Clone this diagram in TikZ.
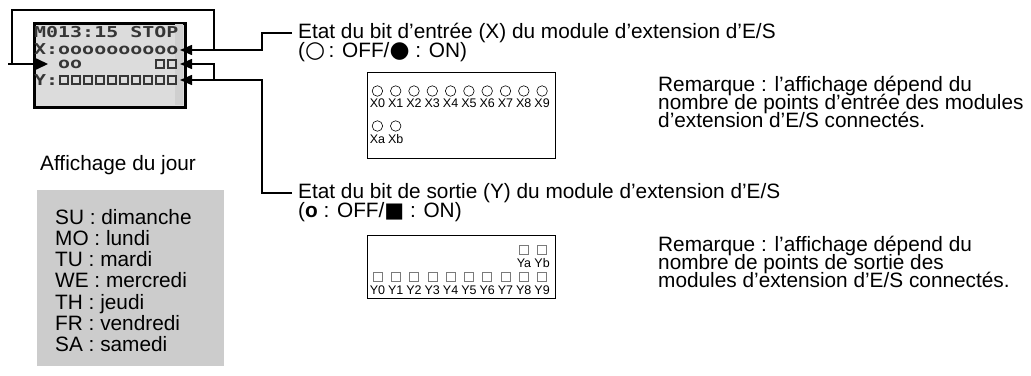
\documentclass[tikz,border=0pt]{standalone}
\usepackage{fontspec}
\setmainfont{Liberation Sans}
\newfontfamily\lcdfont{DejaVu Sans Mono}
\newfontfamily\symfont{DejaVu Sans}
\usetikzlibrary{arrows.meta}
\definecolor{lcdgray}{HTML}{DCDCDC}
\definecolor{lcddark}{HTML}{CFCFCF}
\definecolor{lcdink}{HTML}{363636}
\definecolor{boxgray}{HTML}{CCCCCC}
\definecolor{sqgray}{HTML}{7A7A7A}
\newcommand{\symc}[2]{{\symfont\fontsize{#1}{#1}\selectfont #2}}
\begin{document}
\begin{tikzpicture}[x=1pt,y=-1pt,
  conn/.style={line width=1.5pt},
  arr/.style={conn,-{Triangle[length=12pt,width=10pt]}},
  bigarr/.style={conn,-{Triangle[length=14pt,width=13pt]}},
  txt/.style={font=\fontsize{20.8}{18}\selectfont, anchor=base west, inner sep=0pt},
  ttl/.style={font=\fontsize{20.8}{18}\selectfont, anchor=base west, inner xsep=6pt, inner ysep=0pt},
  lcdtxt/.style={font=\lcdfont\bfseries\fontsize{15}{15}\selectfont, text=lcdink, anchor=base west, inner sep=0pt},
  lcdsq/.style={draw=lcdink, line width=1.6pt, minimum width=8pt, minimum height=8pt, inner sep=0pt},
  circ/.style={draw, circle, line width=0.6pt, minimum size=10.5pt, inner sep=0pt},
  sq/.style={draw=sqgray, line width=0.6pt, minimum width=9pt, minimum height=9pt, inner sep=0pt},
  small/.style={font=\fontsize{12.5}{12}\selectfont, inner sep=0pt},
  frame/.style={draw, line width=0.8pt, anchor=north west, inner sep=0pt}]
\useasboundingbox (0,0) rectangle (1031,375);

% LCD
\node[draw, line width=3pt, fill=lcdgray, minimum width=151pt, minimum height=84pt, inner sep=0pt, anchor=north west] (lcd) at (33,22) {};
\fill[lcddark] (175,23.5) rectangle (182.5,104.5);
\node[lcdtxt] (l1) at (34,37) {\scalebox{1.33}[1]{M013:15 STOP}};
\node[lcdtxt] (l2) at (34,54) {\scalebox{1.33}[1]{X:oooooooooo}};
\node[lcdtxt] (l3) at (34,68) {\scalebox{1.33}[1]{\ \ oo}};
\node[lcdtxt] (l4) at (34,85) {\scalebox{1.33}[1]{Y:}};
\foreach \c in {10,11}{\node[lcdsq] (r3s\c) at ({34+12*(\c+0.5)},64) {};}
\foreach \c in {2,...,11}{\node[lcdsq] (ys\c) at ({34+12*(\c+0.5)},80) {};}

% connector points
\coordinate (xtip) at (180,50);
\coordinate (r3tip) at (180,64);
\coordinate (ytip) at (180,80);
\coordinate (ltip) at (48,64);
\coordinate (jin) at (262,50);
\coordinate (jtop) at (214,50);
\coordinate (tl) at (12,10);
\coordinate (lstart) at (8,64);
\coordinate (lc) at (12,64);
\coordinate (jout) at (262,80);
\coordinate (jy) at (214,80);

% titles
\node[ttl] (intitle) at (292,38.5) {Etat du bit d’entrée (X) du module d’extension d’E/S};
\node[txt] (inleg) at (298,57) {(\symc{23}{○}\,: OFF/\symc{23}{●} : ON)};
\node[ttl] (outtitle) at (292,198.5) {Etat du bit de sortie (Y) du module d’extension d’E/S};
\node[txt] (outleg) at (298,217) {(\textbf{o} : OFF/\symc{21}{■} : ON)};

% connectors
\draw[arr] (intitle.west) -| (jin) -- (xtip);
\draw[conn] (jtop) |- (tl) -- (lc);
\draw[bigarr] (lstart) -- (ltip);
\draw[arr] (outtitle.west) -| (jout) -- (ytip);
\draw[arr] (jy) |- (r3tip);

% X box
\node[frame, minimum width=188pt, minimum height=86pt] (xbox) at (367,72) {};
\foreach \i in {0,...,9}{
  \node[circ] (xc\i) at ({377.4+18.3*\i},91) {};
  \node[small] (xl\i) at ({377.4+18.3*\i},103) {X\i};
}
\node[circ] (xca) at (377.4,126) {};
\node[small] (xla) at (377.4,139) {Xa};
\node[circ] (xcb) at (395.7,126) {};
\node[small] (xlb) at (395.7,139) {Xb};

% Y box
\node[frame, minimum width=188pt, minimum height=63pt] (ybox) at (367,235) {};
\foreach \i in {0,...,9}{
  \node[sq] (ys\i b) at ({377.4+18.3*\i},277) {};
  \node[small] (yl\i) at ({377.4+18.3*\i},290) {Y\i};
}
\node[sq] (ysa) at (524,250) {};
\node[small] (yla) at (524,263) {Ya};
\node[sq] (ysb) at (542.1,250) {};
\node[small] (ylb) at (542.1,263) {Yb};

% remarks
\node[txt] (r1a) at (658,91) {Remarque : l’affichage dépend du};
\node[txt] (r1b) at (658,109) {nombre de points d’entrée des modules};
\node[txt] (r1c) at (658,127) {d’extension d’E/S connectés.};
\node[txt] (r2a) at (658,251) {Remarque : l’affichage dépend du};
\node[txt] (r2b) at (658,269) {nombre de points de sortie des};
\node[txt] (r2c) at (658,287) {modules d’extension d’E/S connectés.};

% day display
\node[txt] (jour) at (40,170) {Affichage du jour};
\node[fill=boxgray, minimum width=187pt, minimum height=176pt, inner sep=0pt, anchor=north west] (daybox) at (37,190) {};
\foreach \d [count=\k from 0] in {SU : dimanche, MO : lundi, TU : mardi, WE : mercredi, TH : jeudi, FR : vendredi, SA : samedi}{
  \node[txt] (day\k) at (55,{224+21.3*\k}) {\d};
}
\end{tikzpicture}
\end{document}
